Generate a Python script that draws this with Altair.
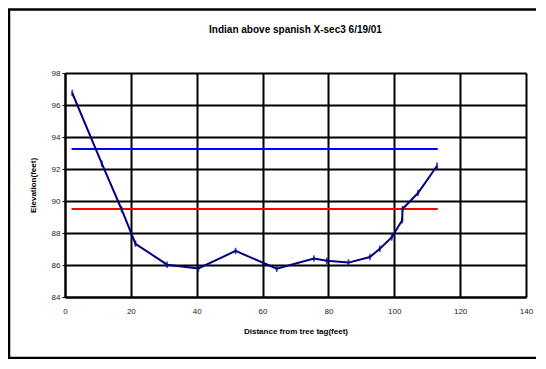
import altair as alt
import pandas as pd

# Data
distance = [2.2, 11.2, 17.2, 21.4, 31.0, 40.5, 51.8, 64.3, 75.6, 79.5, 86.1, 92.6, 95.6, 99.2, 102.4, 102.5, 107.2, 113.0]
elevation = [96.75, 92.33, 89.47, 87.33, 86.02, 85.78, 86.88, 85.77, 86.4, 86.27, 86.15, 86.5, 87.02, 87.72, 88.8, 89.5, 90.5, 92.2]
level_names = ["blue", "red"]
level_values = [93.25, 89.5]
level_start = [2.0, 2.0]
level_end = [113.2, 113.2]
level_colors = ["#0000FF", "#FF0000"]
x_ticks = [0, 20, 40, 60, 80, 100, 120, 140]
y_ticks = [84, 86, 88, 90, 92, 94, 96, 98]

FONT = "Liberation Sans"

df = pd.DataFrame({"d": distance, "e": elevation, "i": list(range(len(distance)))})
lv = pd.DataFrame({"name": level_names, "y": level_values, "x1": level_start, "x2": level_end})

xscale = alt.Scale(domain=[0, 140], nice=False, zero=False)
yscale = alt.Scale(domain=[84, 98], nice=False, zero=False)

xaxis = alt.Axis(values=x_ticks, title="Distance from tree tag(feet)", grid=True, gridColor="black",
                 gridWidth=2, domainColor="black", domainWidth=2, ticks=False, labelPadding=10,
                 labelFontSize=8, labelFont=FONT, labelColor="#222", titleFont=FONT, titleFontSize=8,
                 titleFontWeight="bold", titlePadding=12, labelFlush=False)
yaxis = alt.Axis(values=y_ticks, title="Elevation(feet)", grid=True, gridColor="black", gridWidth=2,
                 domainColor="black", domainWidth=2, tickColor="black", tickSize=3, labelPadding=2,
                 labelFontSize=8, labelFont=FONT, labelColor="#222", titleFont=FONT, titleFontSize=8,
                 titleFontWeight="bold", titlePadding=14, labelFlush=False)

frame_src = pd.DataFrame({"a": [0]})
frame_left = alt.Chart(frame_src).mark_rule(color="black", strokeWidth=2.5).encode(
    x=alt.value(-56), y=alt.value(-63.5), y2=alt.value(285))
frame_top = alt.Chart(frame_src).mark_rule(color="black", strokeWidth=2.5).encode(
    x=alt.value(-57), x2=alt.value(471), y=alt.value(-63.5))
frame_bottom = alt.Chart(frame_src).mark_rule(color="black", strokeWidth=2.5).encode(
    x=alt.value(-57), x2=alt.value(471), y=alt.value(285))

levels = alt.Chart(lv).mark_rule(strokeWidth=2).encode(
    x=alt.X("x1:Q", scale=xscale, axis=xaxis),
    x2="x2:Q",
    y=alt.Y("y:Q", scale=yscale, axis=yaxis),
    color=alt.Color("name:N", scale=alt.Scale(domain=level_names, range=level_colors), legend=None),
)

line = alt.Chart(df).mark_line(color="#000080", strokeWidth=2).encode(
    x=alt.X("d:Q", scale=xscale, axis=xaxis),
    y=alt.Y("e:Q", scale=yscale, axis=yaxis),
    order="i:Q",
)

pts = alt.Chart(df).mark_point(
    shape="M-0.35,-1H0.35M0,-1V1M-0.35,1H0.35", size=20, color="#000080", strokeWidth=2, filled=False
).encode(
    x=alt.X("d:Q", scale=xscale, axis=xaxis),
    y=alt.Y("e:Q", scale=yscale, axis=yaxis),
)

chart = alt.layer(frame_left, frame_top, frame_bottom, levels, line, pts).properties(
    width=461, height=224,
    title=alt.TitleParams("Indian above spanish X-sec3 6/19/01", font=FONT, fontSize=10,
                          fontWeight="bold", anchor="middle", offset=0, dy=27),
    autosize=alt.AutoSizeParams(type="none"),
    padding={"left": 57, "top": 65, "right": 10, "bottom": 62},
).configure_view(stroke="#808080", strokeWidth=2).configure(background="white")

chart.save("out.html", embed_options={"renderer": "svg", "actions": False})
